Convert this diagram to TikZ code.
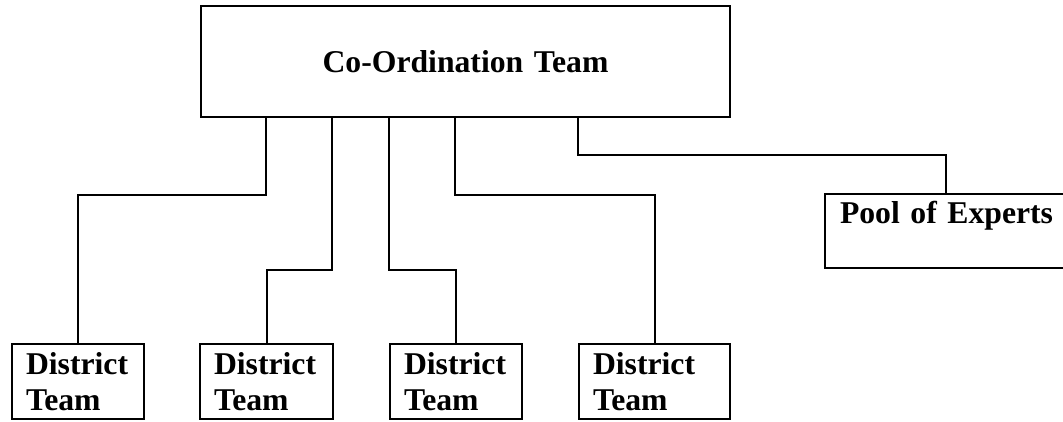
\documentclass[tikz,border=0pt]{standalone}
\usepackage{fontspec}
\setmainfont{Liberation Serif}
\usetikzlibrary{calc}
\begin{document}
\begin{tikzpicture}[x=1pt,y=-1pt,
  box/.style={draw, line width=2pt, rectangle, inner ysep=0pt,
    font=\fontsize{31.7}{36.5}\selectfont\bfseries, align=left},
  link/.style={line width=2pt}]
\clip (0,0) rectangle (1063,421);
\node[box, text width=287, inner xsep=121, minimum height=111, align=center] (ct) at (465.5,61.5) {Co-Ordination Team};
\node[box, text width=104, inner xsep=14, minimum height=75] (d1) at (78,381.5) {District\\Team};
\node[box, text width=105, inner xsep=14, minimum height=75] (d2) at (266.5,381.5) {District\\Team};
\node[box, text width=104, inner xsep=14, minimum height=75] (d3) at (456,381.5) {District\\Team};
\node[box, text width=123, inner xsep=14, minimum height=75] (d4) at (654.5,381.5) {District\\Team};
\node[box, text width=230, inner xsep=15, minimum height=74] (pe) at (955,231) {Pool of Experts\\~};
\coordinate (c1) at ($(ct.south west)+(66,0)$);
\coordinate (c2) at ($(ct.south west)+(132,0)$);
\coordinate (c3) at ($(ct.south west)+(189,0)$);
\coordinate (c4) at ($(ct.south west)+(255,0)$);
\coordinate (c5) at ($(ct.south west)+(378,0)$);
\coordinate (p5) at ($(pe.north west)+(122,0)$);
\draw[link] (c1) -- ++(0,77) -| (d1.north);
\draw[link] (c2) -- ++(0,152) -| (d2.north);
\draw[link] (c3) -- ++(0,152) -| (d3.north);
\draw[link] (c4) -- ++(0,77) -| (d4.north);
\draw[link] (c5) -- ++(0,37) -| (p5);
\end{tikzpicture}
\end{document}
